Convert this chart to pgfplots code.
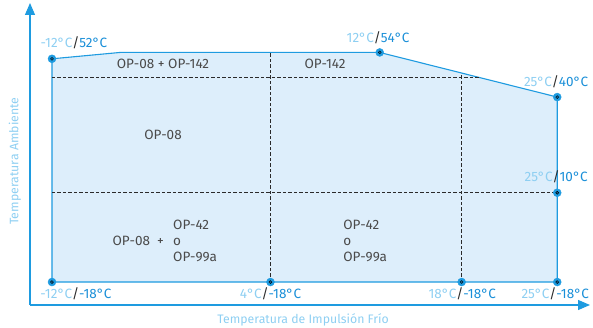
\documentclass[border=0pt]{standalone}
\usepackage{pgfplots}
\pgfplotsset{compat=1.18}
\usetikzlibrary{arrows.meta}
\usepackage{fontspec}
\setmainfont{Fira Sans}
\definecolor{lineblue}{HTML}{1E9BE0}
\definecolor{lightblue}{HTML}{8ECFF2}
\definecolor{valblue}{HTML}{1A8FD8}
\definecolor{fillblue}{HTML}{DDEEFB}
\definecolor{txtgray}{HTML}{4A4A4A}
\definecolor{dashc}{HTML}{2A2A2A}
\newcommand{\tl}[2]{\textcolor{lightblue}{#1}\textcolor{dashc}{/}\textcolor{valblue}{#2}}
\tikzset{lbl/.style={font=\fontsize{13.5}{16}\selectfont, inner sep=1pt}}
\begin{document}
\begin{tikzpicture}
\useasboundingbox (0,0) rectangle (593pt,328pt);
\begin{axis}[
  at={(30pt,23pt)}, anchor=south west,
  scale only axis, width=560pt, height=302pt,
  xmin=-13.61, xmax=27.4, ymin=-25.2, ymax=69.5,
  axis lines=left,
  axis line style={draw=lineblue, line width=1.1pt, -{Triangle[length=12pt,width=10pt]}},
  xtick=\empty, ytick=\empty,
  clip=false,
]
\addplot[fill=fillblue, draw=lineblue, line width=1.1pt] coordinates {(-12,-18) (-12,52) (-7,54) (12,54) (25,40) (25,-18)} -- cycle;
\addplot[dashc, line width=1pt, dash pattern=on 3.5pt off 2pt] coordinates {(-12,46) (19.4,46)};
\addplot[dashc, line width=1pt, dash pattern=on 3.5pt off 2pt] coordinates {(-12,10) (25,10)};
\addplot[dashc, line width=1pt, dash pattern=on 3.5pt off 2pt] coordinates {(4,-18) (4,54)};
\addplot[dashc, line width=1pt, dash pattern=on 3.5pt off 2pt] coordinates {(18,-18) (18,47.5)};
\addplot[only marks, mark=*, mark size=4pt, mark options={fill=lineblue, draw=lineblue}] coordinates {(-12,52) (12,54) (25,40) (25,10) (-12,-18) (4,-18) (18,-18) (25,-18)};
\addplot[only marks, mark=*, mark size=1.5pt, mark options={fill=valblue!75!black, draw=none}] coordinates {(-12,52) (12,54) (25,40) (25,10) (-12,-18) (4,-18) (18,-18) (25,-18)};
% point labels
\node[lbl] at (axis cs:-10.39,56.9) {\tl{-12°C}{52°C}};
\node[lbl] at (axis cs:11.88,58.5) {\tl{12°C}{54°C}};
\node[lbl] at (axis cs:24.92,44.7) {\tl{25°C}{40°C}};
\node[lbl] at (axis cs:24.92,14.9) {\tl{25°C}{10°C}};
\node[lbl] at (axis cs:-10.24,-21.8) {\tl{-12°C}{-18°C}};
\node[lbl] at (axis cs:4,-21.8) {\tl{4°C}{-18°C}};
\node[lbl] at (axis cs:18.04,-21.8) {\tl{18°C}{-18°C}};
\node[lbl] at (axis cs:24.85,-21.8) {\tl{25°C}{-18°C}};
% region labels
\node[lbl, txtgray] at (axis cs:-3.87,50.3) {OP-08 + OP-142};
\node[lbl, txtgray] at (axis cs:8.0,50.3) {OP-142};
\node[lbl, txtgray] at (axis cs:-3.87,28.1) {OP-08};
\node[lbl, txtgray, anchor=east] at (axis cs:-3.72,-5.15) {OP-08\ \ +};
\node[lbl, txtgray, anchor=west, align=left, font=\fontsize{13.5}{16}\selectfont] at (axis cs:-3.21,-5.15) {OP-42\\o\\OP-99a};
\node[lbl, txtgray, anchor=west, align=left, font=\fontsize{13.5}{16}\selectfont] at (axis cs:9.25,-5.15) {OP-42\\o\\OP-99a};
% axis labels
\node[lightblue, font=\fontsize{12.3}{13}\selectfont] at (axis cs:6.39,-29.9) {Temperatura de Impulsión Frío};
\node[lightblue, rotate=90, font=\fontsize{12.3}{13}\selectfont] at (axis cs:-14.71,19.9) {Temperatura Ambiente};
\end{axis}
\end{tikzpicture}
\end{document}
